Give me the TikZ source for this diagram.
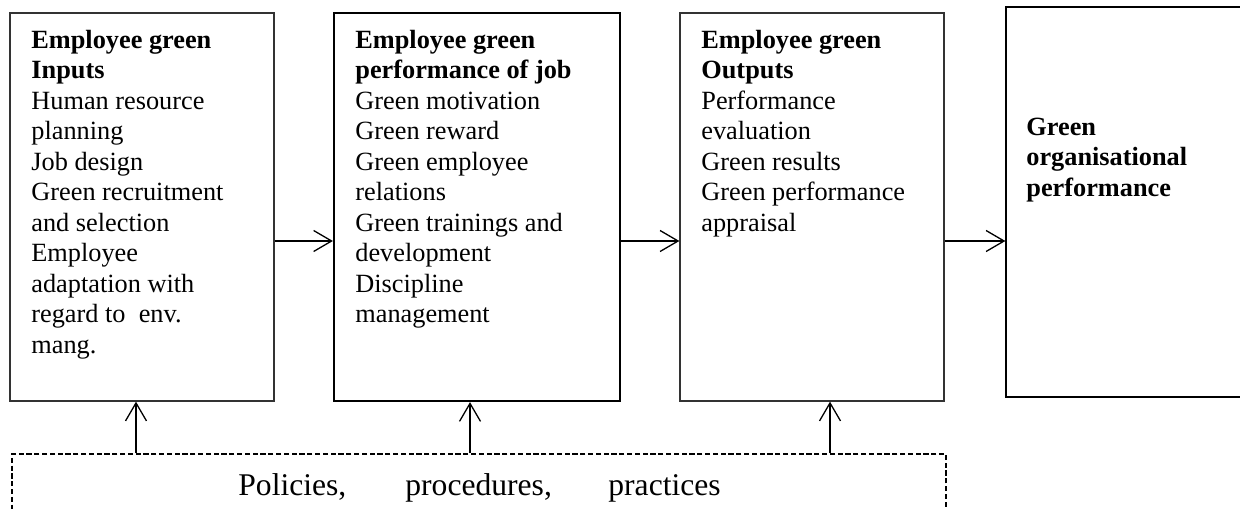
\documentclass[tikz,border=0pt]{standalone}
\usepackage{fontspec}
\setmainfont{Liberation Serif}
\usetikzlibrary{arrows.meta,fit}
\begin{document}
\begin{tikzpicture}[x=0.5pt,y=-0.5pt,
  boxframe/.style={draw=black, line width=0.65pt, inner sep=0pt},
  dashframe/.style={draw=black, line width=0.65pt, inner sep=0pt, dash pattern=on 2.6pt off 1.3pt},
  boxtext/.style={anchor=base west, inner sep=0pt, align=left, font=\fontsize{13.15pt}{15.25pt}\selectfont},
  arr/.style={-{Straight Barb[length=9pt,width=10.5pt]}, line width=0.65pt}]
\useasboundingbox (0,0) rectangle (1240,508);
\node[boxframe, draw=black!80, fit={(10,13) (274,401)}] (b1) {};
\node[boxframe, line width=1.1pt, fit={(334,13) (620,401)}] (b2) {};
\node[boxframe, draw=black!80, fit={(680,13) (944,401)}] (b3) {};
\node[boxframe, fit={(1006,7) (1262,397)}] (b4) {};
\node[dashframe, fit={(12,454) (946,540)}] (pol) {};

% anchor base = baseline of the last line; first baseline at y = 48, line pitch 30.5
\node[boxtext] (t1) at (31,353) {\textbf{Employee green}\\\textbf{Inputs}\\Human resource\\planning\\Job design\\Green recruitment\\and selection\\Employee\\adaptation with\\regard to\ \ env.\\mang.};
\node[boxtext] (t2) at (355,322.5) {\textbf{Employee green}\\\textbf{performance of job}\\Green motivation\\Green reward\\Green employee\\relations\\Green trainings and\\development\\Discipline\\management};
\node[boxtext] (t3) at (701,231) {\textbf{Employee green}\\\textbf{Outputs}\\Performance\\evaluation\\Green results\\Green performance\\appraisal};
\node[boxtext] (t4) at (1026,196) {\textbf{Green}\\\textbf{organisational}\\\textbf{performance}};
\node[anchor=base west, inner sep=0pt, font=\fontsize{15.8pt}{18pt}\selectfont] (ptext) at (238,495) {Policies,\hspace{29.5pt}procedures,\hspace{28.25pt}practices};

\coordinate (ay) at (0,241);
\coordinate (x1) at (136,0);
\coordinate (x2) at (470,0);
\coordinate (x3) at (830,0);
\draw[arr] (b1.east |- ay) -- (b2.west |- ay);
\draw[arr] (b2.east |- ay) -- (b3.west |- ay);
\draw[arr] (b3.east |- ay) -- (b4.west |- ay);
\draw[arr] (pol.north -| x1) -- (b1.south -| x1);
\draw[arr] (pol.north -| x2) -- (b2.south -| x2);
\draw[arr] (pol.north -| x3) -- (b3.south -| x3);
\end{tikzpicture}
\end{document}
